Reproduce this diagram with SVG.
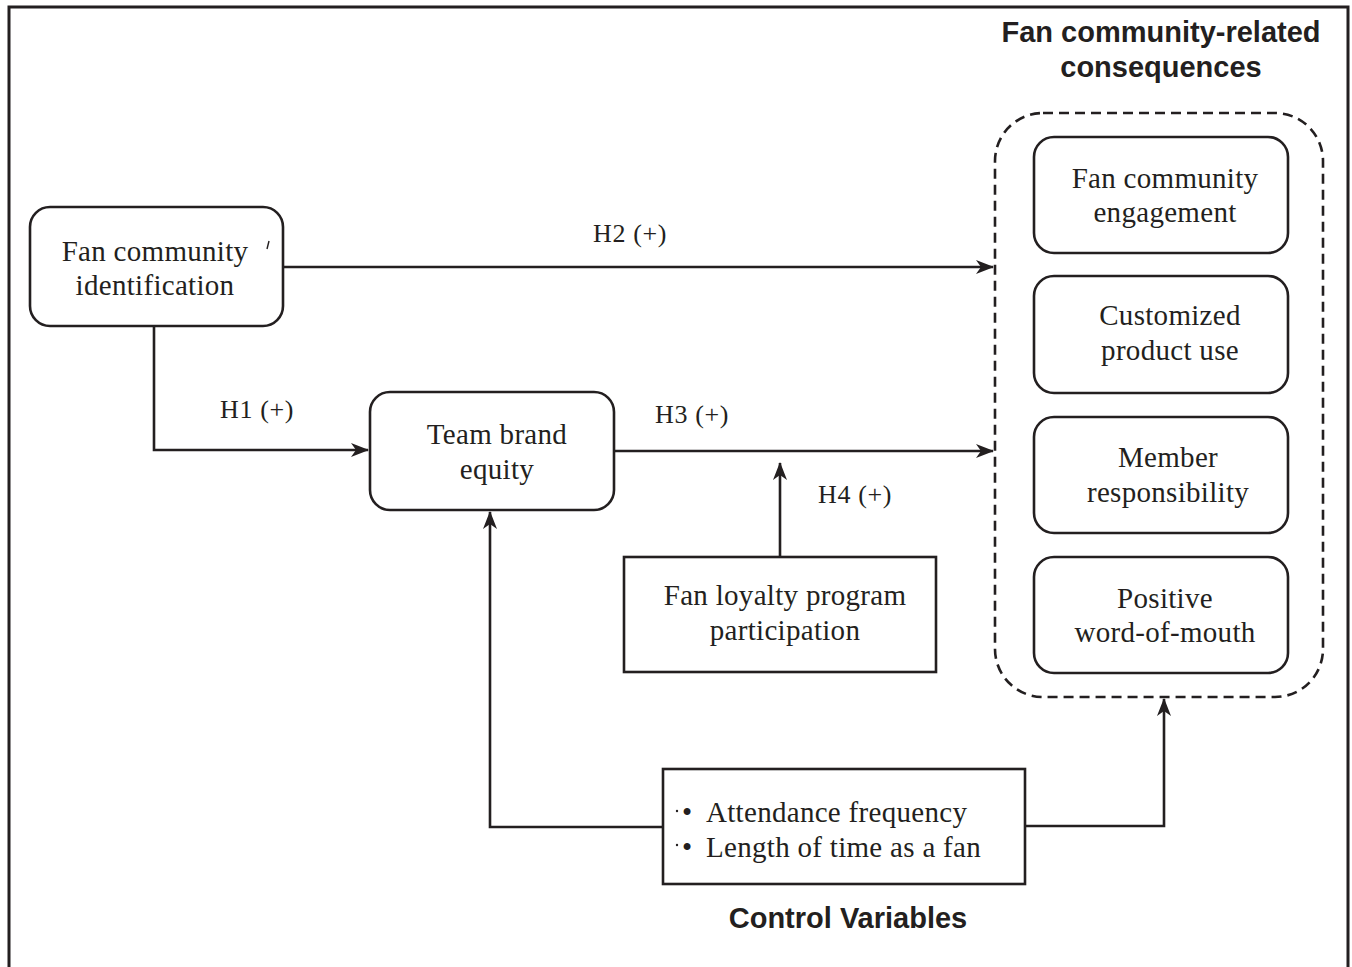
<svg xmlns="http://www.w3.org/2000/svg" width="1352" height="967" viewBox="0 0 1352 967">
<defs>
<style>
.box{fill:#fff;stroke:#231f20;stroke-width:2.6}
.ln{fill:none;stroke:#231f20;stroke-width:2.6}
.t{font-family:"Liberation Serif","Times New Roman",serif;font-size:29px;fill:#231f20;letter-spacing:0.3px;text-anchor:middle}
.lbl{font-family:"Liberation Serif","Times New Roman",serif;font-size:26px;fill:#231f20;letter-spacing:0.6px;text-anchor:middle}
.h{font-family:"Liberation Sans",Arial,sans-serif;font-weight:bold;font-size:29px;fill:#231f20;text-anchor:middle}
</style>
<marker id="arr" viewBox="0 0 18 14" refX="17" refY="7" markerWidth="18" markerHeight="14" markerUnits="userSpaceOnUse" orient="auto">
<path d="M0,0 L18,7 L0,14 L5,7 Z" fill="#231f20"/>
</marker>
</defs>
<rect width="1352" height="967" fill="#fff"/>
<path d="M9,967 V7 H1348 V967" fill="none" stroke="#231f20" stroke-width="3"/>

<text class="h" x="1161" y="42">Fan community-related</text>
<text class="h" x="1161" y="77">consequences</text>
<text class="h" x="848" y="928">Control Variables</text>

<g id="connectors">
<path class="ln" d="M283,267 H993" marker-end="url(#arr)"/>
<path class="ln" d="M154,326 V450 H368" marker-end="url(#arr)"/>
<path class="ln" d="M614,451 H993" marker-end="url(#arr)"/>
<path class="ln" d="M780,557 V463" marker-end="url(#arr)"/>
<path class="ln" d="M663,827 H490 V512" marker-end="url(#arr)"/>
<path class="ln" d="M1025,826 H1164 V699" marker-end="url(#arr)"/>
<text class="lbl" x="630" y="242">H2 (+)</text>
<text class="lbl" x="257" y="418">H1 (+)</text>
<text class="lbl" x="692" y="423">H3 (+)</text>
<text class="lbl" x="855" y="503">H4 (+)</text>
</g>

<g id="fan-community-identification">
<rect class="box" x="30" y="207" width="253" height="119" rx="20"/>
<text class="t" x="155" y="261">Fan community</text>
<text class="t" x="155" y="295">identification</text>
<path d="M269,241 L267,249" stroke="#231f20" stroke-width="1.4"/>
</g>

<g id="team-brand-equity">
<rect class="box" x="370" y="392" width="244" height="118" rx="20"/>
<text class="t" x="497" y="444">Team brand</text>
<text class="t" x="497" y="479">equity</text>
</g>

<g id="fan-loyalty-program">
<rect class="box" x="624" y="557" width="312" height="115"/>
<text class="t" x="785" y="605">Fan loyalty program</text>
<text class="t" x="785" y="640">participation</text>
</g>

<g id="control-variables">
<rect class="box" x="663" y="769" width="362" height="115"/>
<circle cx="677" cy="811" r="1.2" fill="#231f20"/>
<circle cx="677" cy="845" r="1.2" fill="#231f20"/>
<text class="t" x="682" y="822" style="text-anchor:start">•</text>
<text class="t" x="706" y="822" style="text-anchor:start">Attendance frequency</text>
<text class="t" x="682" y="857" style="text-anchor:start">•</text>
<text class="t" x="706" y="857" style="text-anchor:start">Length of time as a fan</text>
</g>

<g id="consequences">
<rect x="995" y="113" width="328" height="584" rx="48" fill="none" stroke="#231f20" stroke-width="2.6" stroke-dasharray="10 6"/>
<g id="fan-community-engagement">
<rect class="box" x="1034" y="137" width="254" height="116" rx="20"/>
<text class="t" x="1165" y="188">Fan community</text>
<text class="t" x="1165" y="222">engagement</text>
</g>
<g id="customized-product-use">
<rect class="box" x="1034" y="276" width="254" height="117" rx="20"/>
<text class="t" x="1170" y="325">Customized</text>
<text class="t" x="1170" y="360">product use</text>
</g>
<g id="member-responsibility">
<rect class="box" x="1034" y="417" width="254" height="116" rx="20"/>
<text class="t" x="1168" y="467">Member</text>
<text class="t" x="1168" y="502">responsibility</text>
</g>
<g id="positive-wom">
<rect class="box" x="1034" y="557" width="254" height="116" rx="20"/>
<text class="t" x="1165" y="608">Positive</text>
<text class="t" x="1165" y="642">word-of-mouth</text>
</g>
</g>
</svg>
